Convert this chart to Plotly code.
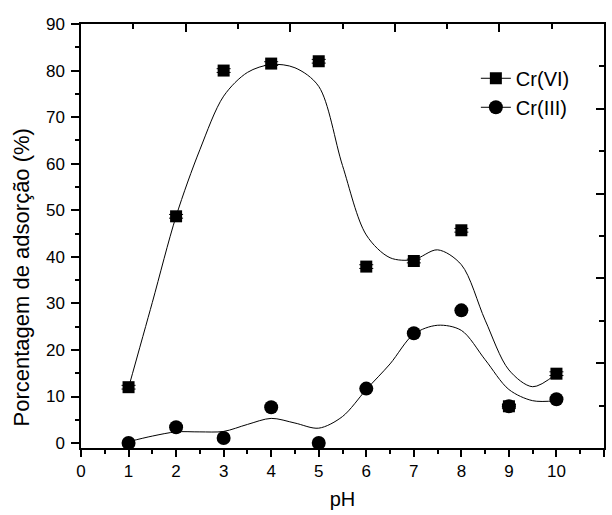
import plotly.graph_objects as go

ph = [1, 2, 3, 4, 5, 6, 7, 8, 9, 10]
cr6 = [12.0, 48.7, 80.0, 81.5, 82.0, 37.9, 39.1, 45.7, 7.9, 14.9]
cr3 = [0.0, 3.4, 1.1, 7.7, 0.0, 11.7, 23.6, 28.5, 7.9, 9.4]
cr6_err = [0.4] * 10

curve_x = [1, 1.5, 2, 2.5, 3, 3.5, 4, 4.5, 5, 5.5, 6, 6.5, 7, 7.5, 8, 8.5, 9, 9.5, 10]
cr6_curve = [11.9, 30.2, 48.7, 63.0, 74.5, 79.6, 81.3, 80.6, 76.6, 59.6, 44.7,
             39.8, 39.4, 41.5, 38.3, 26.4, 15.7, 12.1, 14.9]
cr3_curve = [0.3, 1.5, 2.4, 2.4, 2.5, 4.0, 5.3, 4.3, 3.2, 5.7, 11.5,
             17.0, 23.4, 25.3, 24.2, 17.9, 11.5, 9.1, 9.1]

FONT = "Liberation Sans, Arial, sans-serif"

fig = go.Figure()
fig.add_trace(go.Scatter(x=curve_x, y=cr6_curve, mode="lines",
                         line=dict(color="black", width=1, shape="spline", smoothing=0.9),
                         showlegend=False, hoverinfo="skip"))
fig.add_trace(go.Scatter(x=curve_x, y=cr3_curve, mode="lines",
                         line=dict(color="black", width=1, shape="spline", smoothing=0.9),
                         showlegend=False, hoverinfo="skip"))
fig.add_trace(go.Scatter(x=ph, y=cr3, mode="markers",
                         marker=dict(symbol="circle", size=14, color="black"),
                         showlegend=False))
fig.add_trace(go.Scatter(x=ph, y=cr6, mode="markers",
                         marker=dict(symbol="square", size=12, color="black"),
                         error_y=dict(type="data", array=cr6_err, color="black",
                                      thickness=1, width=7),
                         showlegend=False))
# legend entries
fig.add_trace(go.Scatter(x=[None], y=[None], mode="lines+markers", name="Cr(VI)",
                         line=dict(color="black", width=1),
                         marker=dict(symbol="square", size=12, color="black")))
fig.add_trace(go.Scatter(x=[None], y=[None], mode="lines+markers", name="Cr(III)",
                         line=dict(color="black", width=1),
                         marker=dict(symbol="circle", size=14, color="black")))
# trace for top/right frame axes
fig.add_trace(go.Scatter(x=[None], y=[None], xaxis="x2", yaxis="y2",
                         showlegend=False, hoverinfo="skip"))

fig.update_layout(
    width=612, height=515,
    margin=dict(l=81, r=8, t=24, b=63),
    paper_bgcolor="white", plot_bgcolor="white",
    font=dict(family=FONT, color="black"),
    showlegend=True,
    legend=dict(x=0.755, y=0.918, xanchor="left", yanchor="top",
                font=dict(size=20, family=FONT), bgcolor="rgba(0,0,0,0)",
                tracegroupgap=0, itemsizing="trace"),
    xaxis=dict(range=[0, 11], dtick=1, tick0=0, showgrid=False, zeroline=False,
               showline=True, linecolor="black", linewidth=1.5,
               ticks="outside", ticklen=7, tickwidth=1.5, tickcolor="black",
               minor=dict(dtick=0.5, ticks="outside", ticklen=4, tickwidth=1.5, tickcolor="black"),
               tickfont=dict(size=17),
               title=dict(text="pH", font=dict(size=20), standoff=12)),
    yaxis=dict(range=[-1.06, 90], dtick=10, tick0=0, showgrid=False, zeroline=False,
               showline=True, linecolor="black", linewidth=1.5,
               ticks="outside", ticklen=8, tickwidth=1.5, tickcolor="black",
               minor=dict(dtick=5, ticks="outside", ticklen=4, tickwidth=1.5, tickcolor="black"),
               tickfont=dict(size=17), ticklabelstandoff=3),
    xaxis2=dict(overlaying="x", side="top", range=[0, 10], dtick=2, tick0=0,
                showgrid=False, zeroline=False, showline=True, linecolor="black", linewidth=1.5,
                ticks="inside", ticklen=8, tickwidth=1.5, tickcolor="black",
                minor=dict(dtick=1, ticks="inside", ticklen=5, tickwidth=1.5, tickcolor="black"),
                showticklabels=False),
    yaxis2=dict(overlaying="y", side="right", range=[0, 10], dtick=2, tick0=0,
                showgrid=False, zeroline=False, showline=True, linecolor="black", linewidth=1.5,
                ticks="inside", ticklen=8, tickwidth=1.5, tickcolor="black",
                minor=dict(dtick=1, ticks="inside", ticklen=5, tickwidth=1.5, tickcolor="black"),
                showticklabels=False),
    annotations=[dict(text="Porcentagem de adsorção (%)", xref="paper", yref="paper",
                      x=-0.113, y=0.402, textangle=-90, showarrow=False,
                      font=dict(size=22, family=FONT), xanchor="center", yanchor="middle")],
)

fig.write_html("out.html")
